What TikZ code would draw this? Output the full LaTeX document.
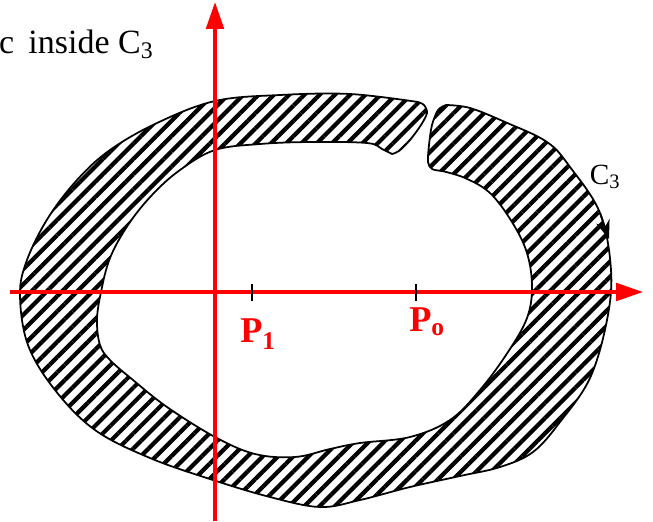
\documentclass[tikz,border=0pt]{standalone}
\usepackage{fontspec}
\setmainfont{Liberation Serif}
\usetikzlibrary{arrows.meta, patterns.meta}
\tikzstyle{axis}   = [red, line width=3pt, -{Triangle[length=23pt,width=15pt]}]
\tikzstyle{ring}   = [line width=1.5pt, pattern={Lines[angle=45, distance=9.2pt, line width=3.6pt]}, pattern color=black]
\tikzstyle{cflow}  = [line width=1.5pt, -{Stealth[length=16pt,width=12pt]}]
\tikzstyle{tick}   = [line width=2pt]
\tikzstyle{plabel} = [red, font=\fontsize{31}{35}\selectfont\bfseries, inner sep=0pt]

\begin{document}
\begin{tikzpicture}[x=0.03cm, y=-0.03cm]
\useasboundingbox (0,0) rectangle (653,521);

% ring C3 with its gap at the top
\draw[ring]
  plot[smooth, tension=0.6] coordinates {(418,102) (350,94) (280,95) (215,101) (157,123) (110,150) (77,180) (48,218) (27,260) (20,295) (28,345) (55,390) (95,430) (150,458) (213,480) (270,497) (320,507) (360,500) (410,487) (460,476) (500,467) (533,452) (560,422) (590,378) (607,320) (611,270) (600,213) (570,167) (547,142) (505,122) (470,108) (446,105)}
  -- plot[smooth] coordinates {(446,105) (438,110) (432,125) (429,145) (428,162) (432,169) (442,171)}
  -- plot[smooth, tension=0.6] coordinates {(442,171) (465,178) (490,193) (512,222) (527,253) (532,287) (527,318) (508,352) (480,390) (450,420) (410,437) (360,443) (330,449) (295,457) (255,454) (215,437) (167,407) (133,380) (110,360) (100,345) (97,320) (101,292) (110,258) (128,225) (152,195) (180,170) (215,150) (260,144) (310,142) (367,143) (382,149) (392,154)}
  -- plot[smooth] coordinates {(392,154) (399,151) (410,140) (421,125) (427,113) (424,105) (418,102)}
  -- cycle;

\coordinate (c3s) at (600,213);
\coordinate (c3e) at (609,239);
\draw[cflow] (c3s) -- (c3e);
\node[font=\fontsize{25}{29}\selectfont] (C3) at (605,177) {C\textsubscript{3}};

% axes
\coordinate (xl) at (10,292);
\coordinate (xr) at (643,292);
\coordinate (yb) at (215,521);
\coordinate (yt) at (215,2);
\draw[axis] (xl) -- (xr);
\draw[axis] (yb) -- (yt);

% points on the axis
\draw[tick] (252,284) -- (252,301);
\draw[tick] (416,284) -- (416,301);
\node[plabel] (P1) at (258,334) {P\textsubscript{1}};
\node[plabel] (Po) at (427,322) {P\textsubscript{o}};

\node[anchor=base west, font=\fontsize{29}{33}\selectfont, inner sep=0pt] (txt) at (-1,53) {c\, inside C\textsubscript{3}};

\end{tikzpicture}
\end{document}
